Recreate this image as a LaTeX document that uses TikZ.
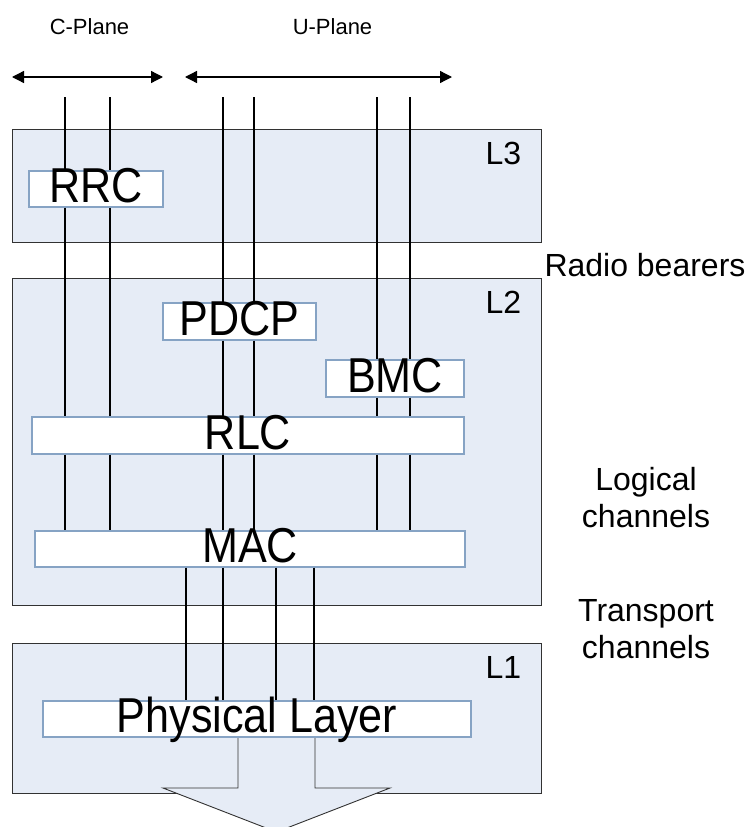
\documentclass[tikz,border=0pt]{standalone}
\usepackage{fontspec}
\setmainfont{Liberation Sans}
\newfontfamily\boxfont[FakeStretch=0.88]{Liberation Sans}
\usetikzlibrary{arrows.meta}

\definecolor{layerfill}{RGB}{230,236,246}
\definecolor{layerline}{RGB}{50,50,50}
\definecolor{boxline}{RGB}{134,163,196}

\begin{document}
\begin{tikzpicture}[x=1pt, y=-1pt,
  layer/.style={draw=layerline, fill=layerfill, line width=0.9pt,
    inner sep=0pt, minimum width=529pt},
  entity/.style={draw=boxline, fill=white, line width=1.4pt, inner sep=0pt,
    minimum height=36pt, text height=31pt, text depth=4pt,
    font=\boxfont\fontsize{49}{50}\selectfont},
  tag/.style={font=\fontsize{32}{37.5}\selectfont, inner sep=0pt, align=center},
  plane/.style={font=\fontsize{22}{26}\selectfont, inner sep=0pt},
  chan/.style={line width=1.3pt},
  span/.style={line width=1.3pt,
    {Triangle[length=12pt, width=12pt]}-{Triangle[length=12pt, width=12pt]}}]
  \clip (0,0) rectangle (747,827);

  % layers
  \node[layer, minimum height=113pt] (l3) at (276.5,185.5) {};
  \node[layer, minimum height=327pt] (l2) at (276.5,441.5) {};
  \node[layer, minimum height=150pt] (l1) at (276.5,718) {};
  \foreach \l/\t in {l3/L3, l2/L2, l1/L1}
    \node[tag, anchor=base east] (\l tag) at ([xshift=-20pt, yshift=-36pt]\l.north east) {\t};

  % output arrow
  \draw[layerline, fill=layerfill, line width=0.9pt]
    (238,737) -- (238,788) -- (163,788) -- (276.5,832) -- (390,788) -- (315,788) -- (315,737);

  % protocol entities
  \node[entity, minimum width=134pt] (rrc) at (96,189) {RRC};
  \node[entity, minimum width=153pt, minimum height=37pt] (pdcp) at (239.5,321.5) {PDCP};
  \node[entity, minimum width=138pt, minimum height=37pt] (bmc) at (395,378.5) {BMC};
  \node[entity, minimum width=432pt, minimum height=37pt] (rlc) at (248,435.5) {RLC};
  \node[entity, minimum width=430pt] (mac) at (250,549) {MAC};
  \node[entity, minimum width=428pt] (phy) at (257,719) {Physical Layer};

  % planes
  \coordinate (cpa) at (12,77);
  \coordinate (cpb) at (163,77);
  \coordinate (upa) at (185,77);
  \coordinate (upb) at (452,77);
  \draw[span] (cpa) -- (cpb);
  \draw[span] (upa) -- (upb);
  \node[plane, anchor=base] (cplane) at (89.5,34) {C-Plane};
  \node[plane, anchor=base] (uplane) at (332.5,34) {U-Plane};

  % bearers and logical channels
  \foreach \n/\x/\e in {c1/65/rrc, c2/110/rrc, u1/223/pdcp, u2/254/pdcp, u3/377/bmc, u4/410/bmc} {
    \coordinate (\n) at (\x,97);
    \draw[chan] (\n) -- (\n |- \e.north)
      (\n |- \e.south) -- (\n |- rlc.north)
      (\n |- rlc.south) -- (\n |- mac.north);
  }

  % transport channels
  \foreach \x in {186,223,276,314}
    \draw[chan] (\x,0 |- mac.south) -- (\x,0 |- phy.north);

  \node[tag, anchor=base] (bearers) at (645,276) {Radio bearers};
  \node[tag, anchor=north] (logical) at (646,467) {Logical\\channels};
  \node[tag, anchor=north] (transport) at (646,599) {Transport\\channels};
\end{tikzpicture}
\end{document}
